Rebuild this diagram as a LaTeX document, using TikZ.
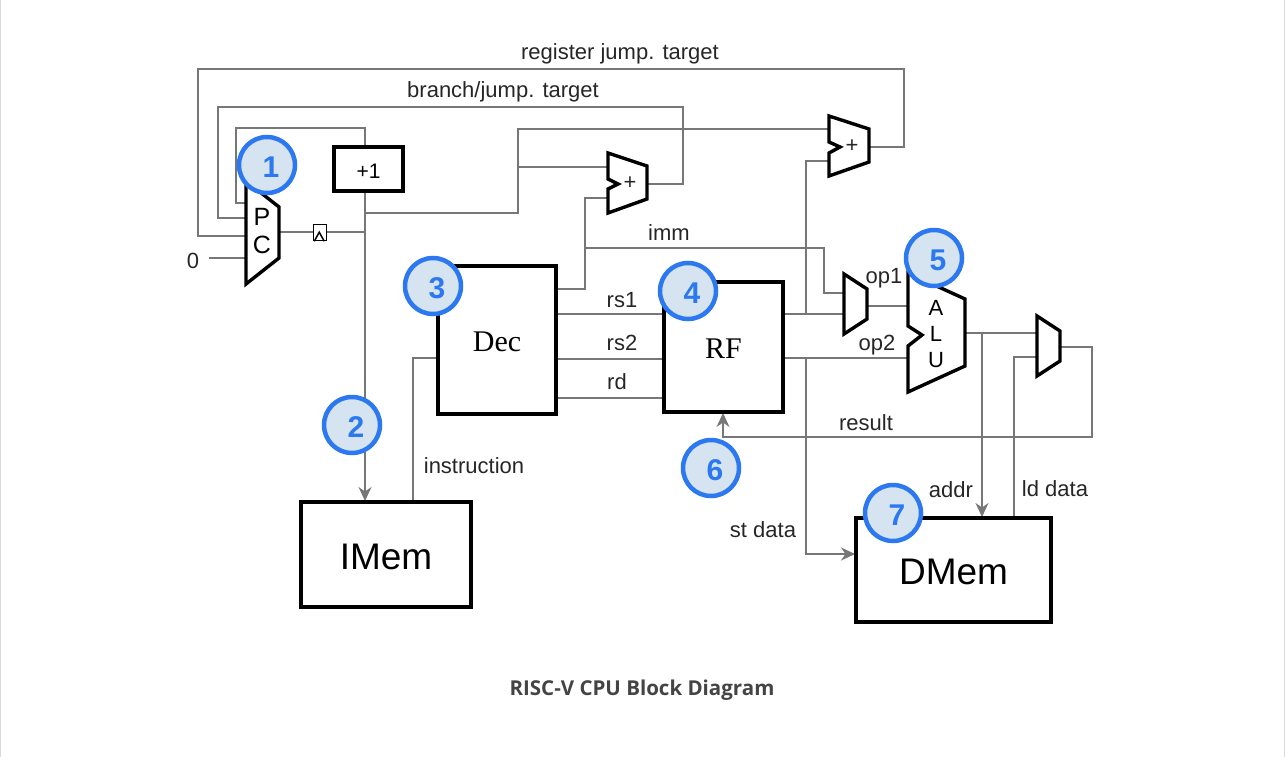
\documentclass[tikz,border=0pt]{standalone}
\usepackage{fontspec}
\usepackage{xcolor}
\setmainfont{Liberation Sans}
\newfontfamily\boxserif{Liberation Serif}
\newfontfamily\capfont{Open Sans}
\usetikzlibrary{arrows.meta}
\definecolor{wiregray}{HTML}{777777}
\definecolor{badgeblue}{HTML}{2B78F0}
\definecolor{badgefill}{HTML}{D5E4F0}
\definecolor{captext}{HTML}{444444}
\newcommand{\lowered}[1]{\raisebox{-2pt}[\height][\depth]{#1}}
\tikzset{
  wire/.style={draw=wiregray, line width=1.5pt},
  feed/.style={wire, -{Stealth[length=14pt,width=13pt,inset=4.5pt]}},
  block/.style={draw=black, line width=3.4pt, fill=white, inner sep=0pt, outer sep=0pt},
  unit/.style={draw=black, line width=3.4pt, fill=white, line join=miter},
  lbl/.style={font=\fontsize{22}{26}\selectfont, text=black!85, inner sep=0pt},
  badge/.style={circle, draw=badgeblue, line width=4.5pt, fill=badgefill, minimum size=56pt, inner sep=0pt,
    text=badgeblue, font=\fontsize{30}{32}\selectfont\bfseries},
}
\begin{document}
\begin{tikzpicture}[x=1pt, y=-1pt]
  \useasboundingbox (0,0) rectangle (1285,757);
  \draw[black!15, line width=1pt] (0.5,0) -- (0.5,757);
  \draw[black!15, line width=1pt] (1284.5,0) -- (1284.5,757);

  % ports of the slanted units
  \coordinate (pcinA) at (246,203);
  \coordinate (pcinB) at (246,218);
  \coordinate (pcinC) at (246,236);
  \coordinate (pcinD) at (246,258);
  \coordinate (pcout) at (279,232);
  \coordinate (addAinA) at (608,167);
  \coordinate (addAinB) at (608,198);
  \coordinate (addAout) at (647,184);
  \coordinate (addBinA) at (829,129);
  \coordinate (addBinB) at (829,161);
  \coordinate (addBout) at (869,147);
  \coordinate (muxAinA) at (844,293);
  \coordinate (muxAinB) at (844,314);
  \coordinate (muxAout) at (867,306);
  \coordinate (muxBinA) at (1037,333);
  \coordinate (muxBinB) at (1037,357);
  \coordinate (muxBout) at (1060,347);
  \coordinate (aluinA) at (908,306);
  \coordinate (aluinB) at (908,358);
  \coordinate (aluout) at (965,333);

  % corners and junctions
  \coordinate (zero) at (209,258);
  \coordinate (pctop) at (236,128);
  \coordinate (plusin) at (365,147);
  \coordinate (plusout) at (365,191);
  \coordinate (pcnet) at (365,232);
  \coordinate (nextpc) at (365,213);
  \coordinate (imemin) at (365,501);
  \coordinate (imemout) at (413,502);
  \coordinate (nextup) at (518,129);
  \coordinate (nextmid) at (518,167);
  \coordinate (brright) at (683,107);
  \coordinate (brleft) at (218,107);
  \coordinate (regright) at (904,69);
  \coordinate (regleft) at (198,69);
  \coordinate (decin) at (438,358);
  \coordinate (decimm) at (556,289);
  \coordinate (decrsA) at (556,314);
  \coordinate (decrsB) at (556,359);
  \coordinate (decrd) at (556,398);
  \coordinate (rfrsA) at (664,314);
  \coordinate (rfrsB) at (664,359);
  \coordinate (rfrd) at (664,398);
  \coordinate (immup) at (585,289);
  \coordinate (immnet) at (585,248);
  \coordinate (immright) at (824,248);
  \coordinate (rfoutA) at (783,314);
  \coordinate (rfoutB) at (783,358);
  \coordinate (rfnetA) at (806,314);
  \coordinate (rfnetB) at (806,358);
  \coordinate (rfin) at (723,413);
  \coordinate (dmemst) at (855,554);
  \coordinate (aluaddr) at (982,333);
  \coordinate (dmemaddr) at (982,517);
  \coordinate (dmemld) at (1014,518);
  \coordinate (result) at (1092,437);

  \draw[wire] (pcinA) -| (pctop) -| (plusin);
  \draw[wire] (addAout) -| (brright) -- (brleft) |- (pcinB);
  \draw[wire] (addBout) -| (regright) -- (regleft) |- (pcinC);
  \draw[wire] (zero) -- (pcinD);
  \draw[wire] (pcout) -- (pcnet);
  \draw[feed] (plusout) -- (imemin);
  \draw[wire] (nextpc) -| (nextup) -- (addBinA);
  \draw[wire] (nextmid) -- (addAinA);
  \draw[wire] (addAinB) -| (immup) -- (decimm);
  \draw[wire] (immnet) -- (immright) |- (muxAinA);
  \draw[wire] (decin) -| (imemout);
  \draw[wire] (decrsA) -- (rfrsA);
  \draw[wire] (decrsB) -- (rfrsB);
  \draw[wire] (decrd) -- (rfrd);
  \draw[wire] (rfoutA) -- (muxAinB);
  \draw[wire] (rfnetA) |- (addBinB);
  \draw[wire] (rfoutB) -- (aluinB);
  \draw[feed] (rfnetB) |- (dmemst);
  \draw[wire] (muxAout) -- (aluinA);
  \draw[wire] (aluout) -- (muxBinA);
  \draw[feed] (aluaddr) -- (dmemaddr);
  \draw[wire] (dmemld) |- (muxBinB);
  \draw[feed] (muxBout) -| (result) -| (rfin);

  % units
  \draw[unit] (246,181) -- (279,207) -- (279,258) -- (246,284) -- cycle;
  \draw[unit] (608,153) -- (647,166) -- (647,199) -- (608,213) -- (608,189) -- (618,184) -- (608,179) -- cycle;
  \draw[unit] (829,116) -- (869,129) -- (869,162) -- (829,176) -- (829,153) -- (840,147) -- (829,142) -- cycle;
  \draw[unit] (844,274) -- (867,289) -- (867,319) -- (844,334) -- cycle;
  \draw[unit] (1037,316) -- (1060,331) -- (1060,361) -- (1037,376) -- cycle;
  \draw[unit] (908,273) -- (965,299) -- (965,366) -- (908,392) -- (908,346) -- (922,335) -- (908,326) -- cycle;

  \node[block, minimum width=69pt, minimum height=44pt, font=\fontsize{21}{24}\selectfont] (plusone) at (368.5,169) {\lowered{+1}};
  \node[block, minimum width=170pt, minimum height=105pt, font=\fontsize{37}{40}\selectfont] (imem) at (386,554.5) {\lowered{IMem}};
  \node[block, minimum width=118pt, minimum height=148pt, font=\fontsize{30}{34}\selectfont\boxserif] (dec) at (497,340) {\lowered{Dec}};
  \node[block, minimum width=119pt, minimum height=130pt, font=\fontsize{30}{34}\selectfont\boxserif] (rf) at (723.5,347) {\lowered{RF}};
  \node[block, minimum width=195pt, minimum height=104pt, font=\fontsize{37}{40}\selectfont] (dmem) at (953.5,570) {\lowered{DMem}};

  % clocked stage
  \node[draw=black, line width=1.5pt, fill=white, minimum width=13pt, minimum height=16pt, inner sep=0pt] (flop) at (320,232.5) {};
  \draw[black, line width=1.5pt] (flop.south west) ++(1.5,0) -- ++(5,-9) -- ++(5,9);

  % texts of the units
  \node[lbl, font=\fontsize{25}{28}\selectfont, text=black] (pcP) at (262,217) {P};
  \node[lbl, font=\fontsize{25}{28}\selectfont, text=black] (pcC) at (262,245) {C};
  \node[lbl] (addAtxt) at (630,183) {+};
  \node[lbl] (addBtxt) at (852,146) {+};
  \node[lbl, text=black] (aluA) at (936,308) {A};
  \node[lbl, text=black] (aluL) at (936,334) {L};
  \node[lbl, text=black] (aluU) at (936,360) {U};

  % signal names
  \node[lbl] (regtarget) at (620,53.5) {register jump. target};
  \node[lbl] (brtarget) at (503,91.5) {branch/jump. target};
  \node[lbl] (zerotxt) at (193,261) {0};
  \node[lbl] (immtxt) at (669,233) {imm};
  \node[lbl] (rsAtxt) at (622,300) {rs1};
  \node[lbl] (rsBtxt) at (622,343) {rs2};
  \node[lbl] (rdtxt) at (617,382) {rd};
  \node[lbl] (opAtxt) at (884,278.5) {op1};
  \node[lbl] (opBtxt) at (877,345.5) {op2};
  \node[lbl] (restxt) at (866,423) {result};
  \node[lbl] (insttxt) at (474,466) {instruction};
  \node[lbl] (sttxt) at (763,530) {st data};
  \node[lbl] (addrtxt) at (951,490) {addr};
  \node[lbl] (ldtxt) at (1055,489) {ld data};

  % numbered marks
  \foreach \n/\x/\y in {1/267/165, 2/352/425, 3/433/286, 4/688/291, 5/934/258, 6/711/468, 7/893/513}
    \node[badge] (mark\n) at (\x,\y) {\hspace*{8pt}\lowered{\n}};

  \node[font=\fontsize{20.5}{24}\selectfont\capfont\bfseries, text=captext, inner sep=0pt] (caption) at (642,690) {RISC-V CPU Block Diagram};
\end{tikzpicture}
\end{document}
